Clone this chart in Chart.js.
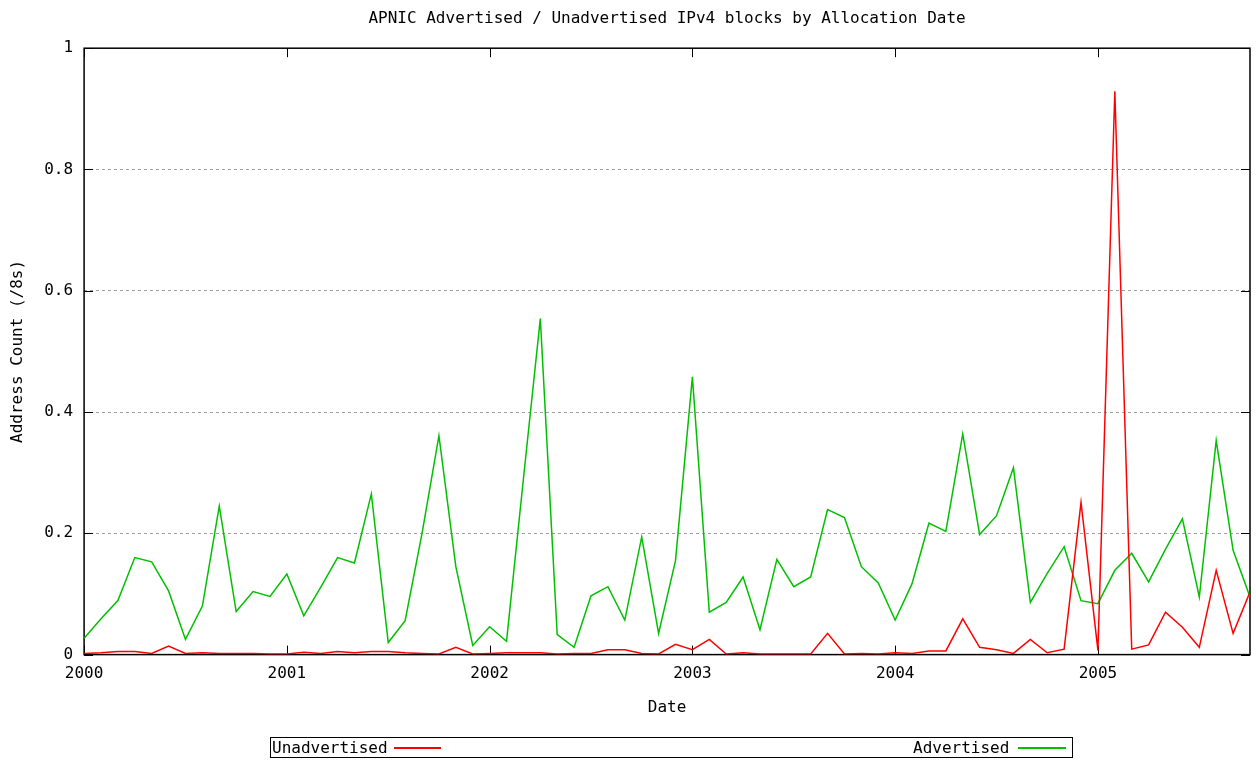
<!DOCTYPE html>
<html lang="en">
<head>
    <meta charset="UTF-8">
    <title>APNIC Advertised / Unadvertised IPv4 blocks</title>
    <script src="https://cdn.jsdelivr.net/npm/chart.js"></script>
    <style>
        body { margin: 0; background: #fff; }
        #wrap { position: relative; width: 1256px; height: 760px; }
        #legend {
            position: absolute; left: 270px; top: 737px; width: 801px; height: 19px;
            border: 1px solid #000; font: 16px 'DejaVu Sans Mono', monospace; color: #000;
        }
        #legend span { position: absolute; top: 0; line-height: 19px; }
        #legend i { position: absolute; top: 9px; height: 0; display: block; }
    </style>
</head>
<body>
    <div id="wrap">
        <canvas id="chart"></canvas>
        <div id="legend">
            <span style="left:1px">Unadvertised</span>
            <i style="left:123px;width:47px;border-top:2px solid #ff0000"></i>
            <span style="left:642px">Advertised</span>
            <i style="left:747px;width:48px;border-top:2px solid #00c000"></i>
        </div>
    </div>

    <script>
        // monthly allocation dates (2000-01 .. 2005-10)
        const months = [
            '2000-01','2000-02','2000-03','2000-04','2000-05','2000-06','2000-07','2000-08','2000-09','2000-10','2000-11','2000-12',
            '2001-01','2001-02','2001-03','2001-04','2001-05','2001-06','2001-07','2001-08','2001-09','2001-10','2001-11','2001-12',
            '2002-01','2002-02','2002-03','2002-04','2002-05','2002-06','2002-07','2002-08','2002-09','2002-10','2002-11','2002-12',
            '2003-01','2003-02','2003-03','2003-04','2003-05','2003-06','2003-07','2003-08','2003-09','2003-10','2003-11','2003-12',
            '2004-01','2004-02','2004-03','2004-04','2004-05','2004-06','2004-07','2004-08','2004-09','2004-10','2004-11','2004-12',
            '2005-01','2005-02','2005-03','2005-04','2005-05','2005-06','2005-07','2005-08','2005-09','2005-10'
        ];

        // address count in /8s
        const unadvertised = [
            0.002, 0.003, 0.005, 0.005, 0.002, 0.014, 0.002, 0.003, 0.002, 0.002, 0.002, 0.001,
            0.001, 0.004, 0.002, 0.005, 0.003, 0.005, 0.005, 0.003, 0.002, 0.001, 0.012, 0.001,
            0.002, 0.003, 0.003, 0.003, 0.001, 0.002, 0.002, 0.008, 0.008, 0.002, 0.001, 0.017,
            0.008, 0.025, 0.001, 0.003, 0.001, 0.001, 0.001, 0.001, 0.035, 0.001, 0.002, 0.001,
            0.003, 0.002, 0.006, 0.006, 0.059, 0.012, 0.008, 0.002, 0.025, 0.003, 0.009, 0.251,
            0.007, 0.929, 0.009, 0.016, 0.070, 0.045, 0.012, 0.139, 0.035, 0.103
        ];
        const advertised = [
            0.027, 0.059, 0.089, 0.160, 0.153, 0.105, 0.025, 0.080, 0.245, 0.071, 0.104, 0.096,
            0.133, 0.064, 0.111, 0.160, 0.151, 0.265, 0.020, 0.056, 0.200, 0.361, 0.145, 0.015,
            0.046, 0.022, 0.290, 0.554, 0.033, 0.012, 0.097, 0.112, 0.057, 0.194, 0.035, 0.155,
            0.458, 0.070, 0.086, 0.128, 0.041, 0.157, 0.112, 0.128, 0.239, 0.226, 0.145, 0.118,
            0.057, 0.117, 0.217, 0.203, 0.364, 0.198, 0.229, 0.308, 0.086, 0.134, 0.178, 0.089,
            0.084, 0.139, 0.167, 0.120, 0.174, 0.224, 0.095, 0.353, 0.172, 0.095
        ];

        const yearTicks = [2000, 2001, 2002, 2003, 2004, 2005];
        const yTicks = [0, 0.2, 0.4, 0.6, 0.8, 1];

        const FONT = { family: "'DejaVu Sans Mono', monospace", size: 16 };

        // month string -> decimal year
        const toYear = m => +m.slice(0, 4) + (+m.slice(5, 7) - 1) / 12;
        const points = vals => vals.map((v, i) => ({ x: toYear(months[i]), y: v }));

        // gnuplot style frame with inward ticks on all four sides
        const framePlugin = {
            id: 'frame',
            beforeDatasetsDraw(chart) {
                const { ctx, chartArea: a, scales } = chart;
                ctx.save();
                ctx.strokeStyle = '#000';
                ctx.lineWidth = 1.5;
                ctx.strokeRect(a.left, a.top, a.right - a.left, a.bottom - a.top);
                ctx.lineWidth = 1;
                ctx.beginPath();
                yearTicks.forEach(t => {
                    const x = Math.round(scales.x.getPixelForValue(t)) + 0.5;
                    ctx.moveTo(x, a.bottom); ctx.lineTo(x, a.bottom - 9);
                    ctx.moveTo(x, a.top); ctx.lineTo(x, a.top + 9);
                });
                yTicks.forEach(t => {
                    const y = Math.round(scales.y.getPixelForValue(t)) + 0.5;
                    ctx.moveTo(a.left, y); ctx.lineTo(a.left + 9, y);
                    ctx.moveTo(a.right, y); ctx.lineTo(a.right - 9, y);
                });
                ctx.stroke();
                ctx.restore();
            }
        };

        new Chart(document.getElementById('chart'), {
            type: 'line',
            data: {
                datasets: [
                    {
                        label: 'Unadvertised',
                        data: points(unadvertised),
                        borderColor: '#ff0000',
                        borderWidth: 1.5,
                        pointRadius: 0,
                        tension: 0
                    },
                    {
                        label: 'Advertised',
                        data: points(advertised),
                        borderColor: '#00c000',
                        borderWidth: 1.5,
                        pointRadius: 0,
                        tension: 0
                    }
                ]
            },
            options: {
                responsive: true,
                maintainAspectRatio: false,
                animation: false,
                layout: { padding: { left: 4, right: 6, top: 0, bottom: 39 } },
                plugins: {
                    legend: { display: false },
                    tooltip: { enabled: false },
                    title: {
                        display: true,
                        fullSize: false,
                        text: 'APNIC Advertised / Unadvertised IPv4 blocks by Allocation Date',
                        color: '#000',
                        font: { ...FONT, weight: 'normal' },
                        padding: { top: 9, bottom: 20 }
                    }
                },
                scales: {
                    x: {
                        type: 'linear',
                        min: toYear(months[0]),
                        max: toYear(months[months.length - 1]),
                        afterBuildTicks: s => { s.ticks = yearTicks.map(v => ({ value: v })); },
                        ticks: { color: '#000', font: FONT, padding: 2, maxRotation: 0, callback: v => String(v) },
                        grid: { display: false },
                        border: { display: false },
                        title: { display: true, text: 'Date', color: '#000', font: FONT, padding: { top: 12, bottom: 4 } }
                    },
                    y: {
                        min: 0,
                        max: 1,
                        afterBuildTicks: s => { s.ticks = yTicks.map(v => ({ value: v })); },
                        ticks: { color: '#000', font: FONT, padding: 11, callback: v => String(v) },
                        grid: {
                            drawTicks: false,
                            color: c => (c.tick && (c.tick.value === 0 || c.tick.value === 1)) ? 'rgba(0,0,0,0)' : '#a0a0a0',
                            lineWidth: 1
                        },
                        border: { display: false, dash: [3, 3] },
                        title: { display: true, text: 'Address Count (/8s)', color: '#000', font: FONT, padding: { top: 4, bottom: 6 } }
                    }
                }
            },
            plugins: [framePlugin]
        });
    </script>
</body>
</html>
